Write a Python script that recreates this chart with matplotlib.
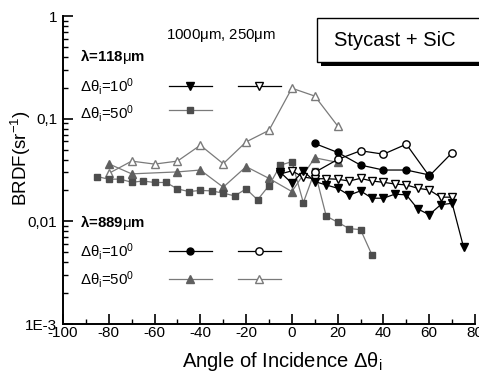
import matplotlib
matplotlib.use("Agg")
import matplotlib.pyplot as plt
from matplotlib.patches import Rectangle
from matplotlib.ticker import FixedLocator, FixedFormatter, LogLocator, NullFormatter, MultipleLocator

plt.rcParams['font.family'] = ['Liberation Sans', 'DejaVu Sans']
plt.rcParams['mathtext.fontset'] = 'custom'
plt.rcParams['mathtext.rm'] = 'Liberation Sans'
plt.rcParams['mathtext.it'] = 'Liberation Sans:italic'
plt.rcParams['mathtext.bf'] = 'Liberation Sans:bold'
plt.rcParams['axes.unicode_minus'] = False

# lambda = 118 um, delta theta_i = 10 deg (filled / open down-triangles)
ang_118_10_fill = [-5, 0, 5, 10, 15, 20, 25, 30, 35, 40, 45, 50, 55, 60, 65, 70, 75]
brdf_118_10_fill = [0.030, 0.0235, 0.031, 0.0244, 0.0226, 0.021, 0.018, 0.0198, 0.0168,
                    0.0168, 0.0184, 0.0181, 0.0132, 0.0116, 0.0145, 0.015, 0.0056]
ang_118_10_open = [-5, 0, 5, 10, 15, 20, 25, 30, 35, 40, 45, 50, 55, 60, 65, 70]
brdf_118_10_open = [0.029, 0.031, 0.027, 0.026, 0.026, 0.0257, 0.0247, 0.0262, 0.0247,
                    0.024, 0.0231, 0.0226, 0.021, 0.0202, 0.0172, 0.0172]

# lambda = 118 um, delta theta_i = 50 deg (filled squares)
ang_118_50 = [-85, -80, -75, -70, -65, -60, -55, -50, -45, -40, -35, -30, -25, -20, -15,
              -10, -5, 0, 5, 10, 15, 20, 25, 30, 35]
brdf_118_50 = [0.0273, 0.0257, 0.0258, 0.0240, 0.0247, 0.0239, 0.0239, 0.0207, 0.0195,
               0.0200, 0.0198, 0.0188, 0.0177, 0.0207, 0.0162, 0.0223, 0.0353, 0.0381,
               0.0152, 0.0307, 0.01125, 0.0098, 0.0085, 0.0083, 0.0047]

# lambda = 889 um, delta theta_i = 10 deg (filled / open circles)
ang_889_10_fill = [10, 20, 30, 40, 50, 60]
brdf_889_10_fill = [0.0573, 0.0469, 0.0353, 0.0316, 0.0316, 0.0283]
ang_889_10_open = [10, 20, 30, 40, 50, 60, 70]
brdf_889_10_open = [0.030, 0.0401, 0.0487, 0.0451, 0.0564, 0.0276, 0.0466]

# lambda = 889 um, delta theta_i = 50 deg (filled / open up-triangles)
ang_889_50_fill = [-80, -70, -50, -40, -30, -20, -10, 0, 10, 20]
brdf_889_50_fill = [0.0363, 0.0290, 0.0303, 0.0316, 0.0215, 0.0341, 0.0262, 0.0195, 0.0416, 0.0375]
ang_889_50_open = [-80, -70, -60, -50, -40, -30, -20, -10, 0, 10, 20]
brdf_889_50_open = [0.0293, 0.0386, 0.0361, 0.0386, 0.0551, 0.0364, 0.0594, 0.0770,
                    0.198, 0.166, 0.0849]

x_ticks = [-100, -80, -60, -40, -20, 0, 20, 40, 60, 80]
y_ticks = [1e-3, 1e-2, 1e-1, 1]
y_tick_labels = ['1E-3', '0,01', '0,1', '1']

W, H = 479, 374
fig = plt.figure(figsize=(W / 100, H / 100), dpi=100)
L, R, T, B = 63, 475, 16, 324
ax = fig.add_axes([L / W, 1 - B / H, (R - L) / W, (B - T) / H])

DARK = '#4d4d4d'
GRAY = '#7a7a7a'

styles = {
    'v_fill': dict(marker='v', color='black', mfc='black', mec='black', ms=5.8, lw=0.9),
    'v_open': dict(marker='v', color='black', mfc='white', mec='black', ms=5.8, lw=0.9),
    's_fill': dict(marker='s', color=GRAY, mfc=DARK, mec=DARK, ms=4.5, lw=0.9),
    'o_fill': dict(marker='o', color='black', mfc='black', mec='black', ms=5, lw=0.9),
    'o_open': dict(marker='o', color='black', mfc='white', mec='black', ms=5.3, lw=0.9),
    '^_fill': dict(marker='^', color=GRAY, mfc='#606060', mec='#606060', ms=5.8, lw=0.9),
    '^_open': dict(marker='^', color=GRAY, mfc='white', mec=GRAY, ms=5.8, lw=0.9),
}

ax.plot(ang_889_50_open, brdf_889_50_open, **styles['^_open'])
ax.plot(ang_889_50_fill, brdf_889_50_fill, **styles['^_fill'])
ax.plot(ang_118_50, brdf_118_50, **styles['s_fill'])
ax.plot(ang_889_10_open, brdf_889_10_open, **styles['o_open'])
ax.plot(ang_889_10_fill, brdf_889_10_fill, **styles['o_fill'])
ax.plot(ang_118_10_open, brdf_118_10_open, **styles['v_open'])
ax.plot(ang_118_10_fill, brdf_118_10_fill, **styles['v_fill'])

ax.set_yscale('log')
ax.set_xlim(-100, 80)
ax.set_ylim(1e-3, 1)
ax.xaxis.set_major_locator(FixedLocator(x_ticks))
ax.xaxis.set_minor_locator(MultipleLocator(10))
ax.yaxis.set_major_locator(FixedLocator(y_ticks))
ax.yaxis.set_major_formatter(FixedFormatter(y_tick_labels))
ax.yaxis.set_minor_locator(LogLocator(base=10, subs=range(2, 10)))
ax.yaxis.set_minor_formatter(NullFormatter())
for s in ('top', 'right'):
    ax.spines[s].set_visible(False)
for s in ('left', 'bottom'):
    ax.spines[s].set_linewidth(1.4)
ax.tick_params(which='major', direction='in', length=7, width=1.2, labelsize=11)
ax.tick_params(axis='x', which='major', pad=1.5)
ax.tick_params(axis='y', which='major', pad=4)
ax.tick_params(which='minor', direction='in', length=3.5, width=1.0)

ax.set_xlabel('Angle of Incidence Δθ$_{\\mathrm{i}}$', fontsize=14.5)
ax.set_ylabel('BRDF(sr$^{-1}$)', fontsize=13.5)
ax.xaxis.set_label_coords((282 - L) / (R - L), -0.085)
ax.yaxis.set_label_coords(-0.073, 0.54)


def axpos(px, py):
    return (px - L) / (R - L), (B - py) / (B - T)


def text_px(px, py, s, **kw):
    x, y = axpos(px, py)
    ax.text(x, y, s, transform=ax.transAxes, va='center', ha='left', **kw)


def sample(pcx, py, style):
    x0, y = axpos(pcx - 21.5, py)
    x1, _ = axpos(pcx + 21.5, py)
    xm, _ = axpos(pcx, py)
    st = styles[style]
    ax.plot([x0, x1], [y, y], transform=ax.transAxes, color=st['color'], lw=st['lw'], clip_on=False)
    ax.plot([xm], [y], transform=ax.transAxes, marker=st['marker'], ls='none',
            mfc=st['mfc'], mec=st['mec'], ms=st['ms'], clip_on=False)


LEG = 10.8
text_px(166, 35, '1000$\\mathrm{\\mu}$m, 250$\\mathrm{\\mu}$m', fontsize=LEG)
text_px(80, 57, 'λ=118$\\mathrm{\\mu}$m', fontsize=LEG, fontweight='bold')
text_px(80, 86, 'Δθ$_{\\mathrm{i}}$=10$^{0}$', fontsize=LEG)
text_px(80, 113, 'Δθ$_{\\mathrm{i}}$=50$^{0}$', fontsize=LEG)
sample(190, 86, 'v_fill')
sample(259, 86, 'v_open')
sample(190, 110, 's_fill')

text_px(80, 223, 'λ=889$\\mathrm{\\mu}$m', fontsize=LEG, fontweight='bold')
text_px(80, 252, 'Δθ$_{\\mathrm{i}}$=10$^{0}$', fontsize=LEG)
text_px(80, 280, 'Δθ$_{\\mathrm{i}}$=50$^{0}$', fontsize=LEG)
sample(190, 251, 'o_fill')
sample(259, 251, 'o_open')
sample(190, 279, '^_fill')
sample(259, 279, '^_open')

# title box with drop shadow
bx0, by0, bx1, by1 = 317, 18, 486, 62
fig.patches.append(Rectangle(((bx0 + 4) / W, 1 - (by1 + 4) / H), (bx1 - bx0) / W, (by1 - by0) / H,
                             transform=fig.transFigure, facecolor='black', edgecolor='black', lw=0))
fig.patches.append(Rectangle((bx0 / W, 1 - by1 / H), (bx1 - bx0) / W, (by1 - by0) / H,
                             transform=fig.transFigure, facecolor='white', edgecolor='black', lw=1.0))
fig.text(395 / W, 1 - 41 / H, 'Stycast + SiC', fontsize=14.5, ha='center', va='center')

fig.savefig('out.png', dpi=100)
